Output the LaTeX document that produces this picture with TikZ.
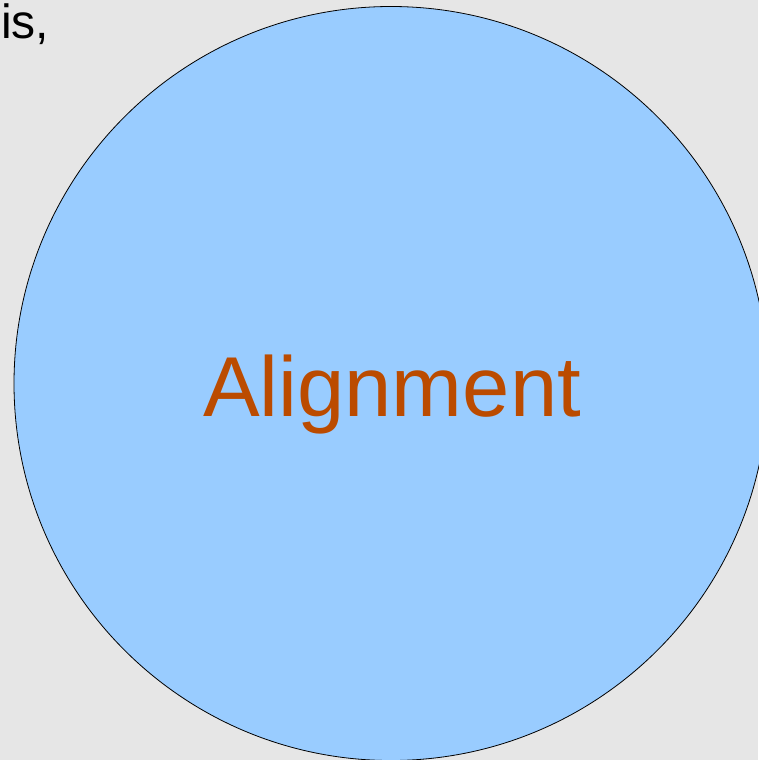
\documentclass[tikz,border=0pt]{standalone}
\usepackage{fontspec}
\setmainfont{Liberation Sans}
\usetikzlibrary{positioning}
\definecolor{bggray}{HTML}{E6E6E6}
\definecolor{circleblue}{HTML}{99CCFF}
\definecolor{labelbrown}{HTML}{BB4B00}

\begin{document}
\begin{tikzpicture}[
    x=1pt, y=-1pt,
    disc/.style={circle, draw=black, line width=0.8pt, fill=circleblue, minimum size=754pt, inner sep=0pt},
    biglabel/.style={font=\fontsize{85}{100}\selectfont, text=labelbrown, inner sep=0pt},
    cornertext/.style={font=\fontsize{48}{56}\selectfont, text=black, inner sep=0pt}
]

% Background
\fill[bggray] (0,0) rectangle (758,760);
\useasboundingbox (0,0) rectangle (758,760);

% Nodes
\node[disc] (alignment) at (391,383.5) {};
\node[biglabel, anchor=base] (alignlabel) at (392,416) {Alignment};
\node[cornertext, anchor=base west] (is) at (1,38) {is,};

\end{tikzpicture}
\end{document}
